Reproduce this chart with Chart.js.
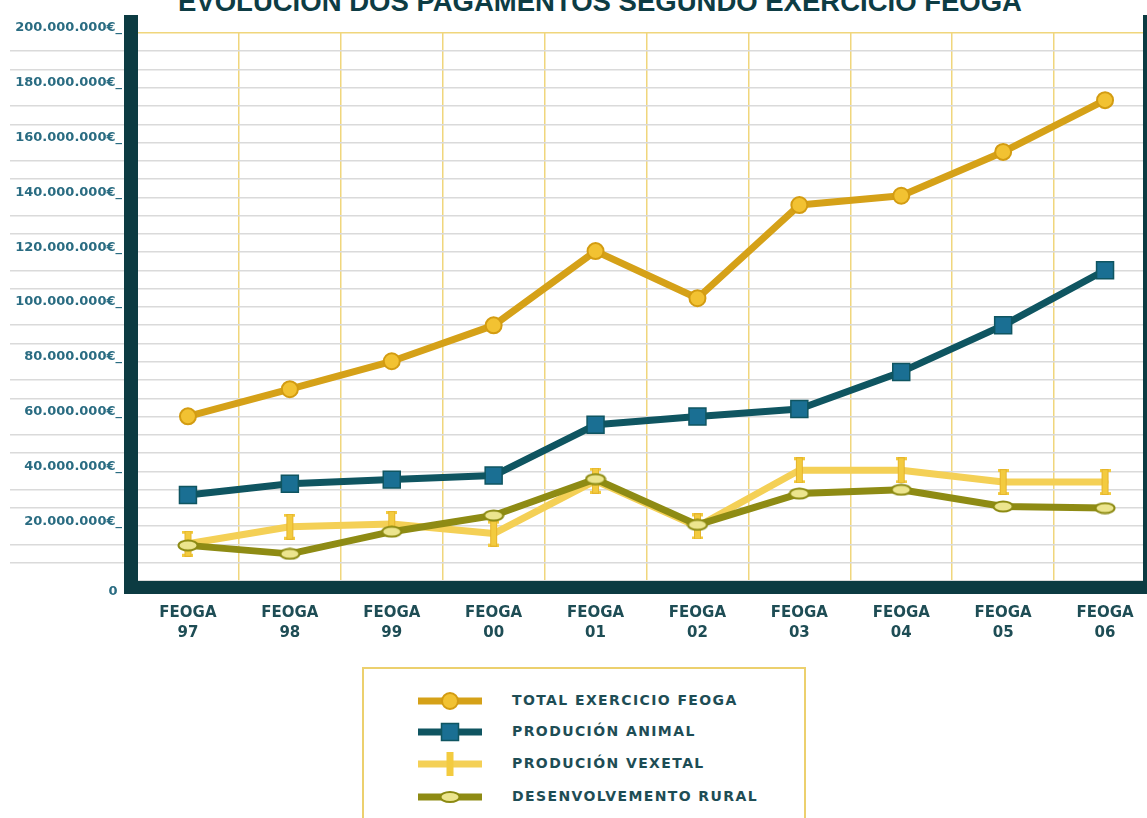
<!DOCTYPE html>
<html lang="gl">
<head>
<meta charset="utf-8">
<title>Evolución dos pagamentos segundo exercicio FEOGA</title>
<script src="https://cdn.jsdelivr.net/npm/chart.js@4.4.1/dist/chart.umd.min.js"></script>
<style>
  html, body { margin: 0; padding: 0; background: #fff; overflow: hidden; }
  #page { position: relative; width: 1147px; height: 818px; overflow: hidden; }
  #title {
    position: absolute; left: 0; top: -12px; width: 1200px;
    text-align: center; font: bold 27.5px/27px "Liberation Sans", Arial, sans-serif;
    color: #0d3c44; white-space: nowrap;
  }
  #my-chart { position: absolute; left: 0; top: 0; }
  #legend {
    position: absolute; left: 362px; top: 667px; width: 444px; height: 170px;
    box-sizing: border-box; border: 2px solid #ecd06e; background: #fff;
  }
  .item { position: absolute; left: 53px; height: 24px; display: flex; align-items: center; }
  .item svg { display: block; }
  .item span {
    position: absolute; left: 95px; top: 3px; white-space: nowrap;
    font: bold 14px "DejaVu Sans", sans-serif; letter-spacing: 1.4px; color: #1e4d55;
  }
</style>
</head>
<body>
<div id="page">
  <div id="title">EVOLUCIÓN DOS PAGAMENTOS SEGUNDO EXERCICIO FEOGA</div>
  <canvas id="my-chart" width="1171" height="641"></canvas>
  <div id="legend"></div>
</div>

<script>
'use strict';

// ***** DATA *****

let years = ['97', '98', '99', '00', '01', '02', '03', '04', '05', '06'];
let seriesNames = ['TOTAL EXERCICIO FEOGA', 'PRODUCIÓN ANIMAL', 'PRODUCIÓN VEXETAL', 'DESENVOLVEMENTO RURAL'];

let totalFeoga = [60100000, 70000000, 80200000, 93300000, 120400000, 103200000, 137200000, 140600000, 156600000, 175500000];
let producionAnimal = [31400000, 35500000, 37000000, 38500000, 57000000, 60000000, 62800000, 76300000, 93300000, 113400000];
let producionVexetal = [13600000, 19800000, 20800000, 17300000, 36600000, 19900000, 40400000, 40400000, 36100000, 36100000];
let desenvolvementoRural = [13000000, 9900000, 18000000, 23900000, 37200000, 20500000, 31900000, 33300000, 27200000, 26600000];

let yMax = 200000000;
let yStep = 20000000 / 3;

// ***** COLOURS *****

let darkTeal = '#0c3b42';
let labelTeal = '#1e4d55';

// ***** HELPER FUNCTIONS *****

function formatEuro(value){
  return String(Math.round(value)).replace(/\B(?=(\d{3})+(?!\d))/g, '.');
}

// little canvases used as point styles
function makeBar(){
  let c = document.createElement('canvas');
  c.width = 11; c.height = 26;
  let g = c.getContext('2d');
  g.fillStyle = '#f3cb3f';
  g.fillRect(2, 0, 7, 26);
  g.fillRect(0, 0, 11, 3);
  g.fillRect(0, 23, 11, 3);
  g.strokeStyle = '#e6b52c';
  g.lineWidth = 1;
  g.strokeRect(2.5, 0.5, 6, 25);
  return c;
}

function makeEllipse(){
  let c = document.createElement('canvas');
  c.width = 22; c.height = 13;
  let g = c.getContext('2d');
  g.beginPath();
  g.ellipse(11, 6.5, 9.5, 5, 0, 0, Math.PI * 2);
  g.fillStyle = '#ece58e';
  g.fill();
  g.lineWidth = 2;
  g.strokeStyle = '#8c8a12';
  g.stroke();
  return c;
}

// ***** FRAME PLUGIN (thick dark axis bars) *****

let framePlugin = {
  id: 'frame',
  beforeDatasetsDraw(chart){
    let a = chart.chartArea;
    let c = chart.ctx;
    c.save();
    c.fillStyle = darkTeal;
    c.fillRect(a.left - 13, a.top - 18, 14, a.bottom - a.top + 31);
    c.fillRect(a.left - 13, a.bottom, a.right - a.left + 13, 13);
    c.fillRect(a.right - 13, a.top - 18, 30, a.bottom - a.top + 31);
    c.restore();
  }
};

// ***** CHART *****

let ctx = document.getElementById('my-chart').getContext('2d');

let myChartObj = {
  type: 'line',
  data: {
    labels: years.map(y => ['FEOGA', y]),
    datasets: [{
      label: seriesNames[0],
      data: totalFeoga,
      borderColor: '#d5a118',
      borderWidth: 7,
      pointStyle: 'circle',
      pointRadius: 8,
      pointBackgroundColor: '#f2c232',
      pointBorderColor: '#d39c12',
      pointBorderWidth: 2,
      order: 1
    },
    {
      label: seriesNames[1],
      data: producionAnimal,
      borderColor: '#0f5561',
      borderWidth: 7,
      pointStyle: 'rect',
      pointRadius: 12,
      pointBackgroundColor: '#1a6f93',
      pointBorderColor: '#0f5561',
      pointBorderWidth: 1.5,
      order: 2
    },
    {
      label: seriesNames[2],
      data: producionVexetal,
      borderColor: '#f4d056',
      borderWidth: 7,
      pointStyle: makeBar(),
      order: 4
    },
    {
      label: seriesNames[3],
      data: desenvolvementoRural,
      borderColor: '#8e8b14',
      borderWidth: 7,
      pointStyle: makeEllipse(),
      order: 3
    }]
  },
  options: {
    responsive: false,
    animation: false,
    layout: { padding: { top: 33, right: 3, left: 0, bottom: 0 } },
    elements: {
      line: { tension: 0, borderJoinStyle: 'round', borderCapStyle: 'round', fill: false },
      point: { hoverRadius: 8 }
    },
    plugins: {
      legend: { display: false },
      tooltip: { enabled: false }
    },
    scales: {
      x: {
        offset: true,
        border: { display: false },
        grid: {
          offset: true,
          color: '#f0d67c',
          lineWidth: 1.5,
          drawTicks: false
        },
        ticks: {
          color: labelTeal,
          padding: 22,
          autoSkip: false,
          maxRotation: 0,
          font: { family: 'DejaVu Sans', weight: 'bold', size: 15, lineHeight: 1.35 }
        },
        afterFit: function(scale){ scale.height = 60; }
      },
      y: {
        min: 0,
        max: yMax,
        border: { display: false },
        grid: {
          color: function(c){ return (c.tick && c.tick.value >= yMax - 1) ? '#f0d67c' : '#dadada'; },
          lineWidth: 1.6,
          tickLength: 127,
          tickColor: function(c){ return c.index % 3 === 0 ? 'rgba(0,0,0,0)' : '#dadada'; }
        },
        ticks: {
          stepSize: yStep,
          autoSkip: false,
          padding: -112,
          labelOffset: -5,
          color: '#2a6c82',
          font: { family: 'DejaVu Sans', weight: 'bold', size: 13 },
          callback: function(value, index){
            if(index === 0){ return ['', '', '0 ']; }
            if(index % 3 !== 0){ return ''; }
            return formatEuro(value) + '€_';
          }
        },
        afterFit: function(scale){ scale.width = 137; }
      }
    }
  },
  plugins: [framePlugin]
};

new Chart(ctx, myChartObj);

// ***** HTML LEGEND *****

let legendSymbols = [
  '<line x1="1" y1="12" x2="65" y2="12" stroke="#d5a118" stroke-width="7"/><circle cx="33" cy="12" r="8" fill="#f2c232" stroke="#d39c12" stroke-width="2"/>',
  '<line x1="1" y1="12" x2="65" y2="12" stroke="#0f5561" stroke-width="7"/><rect x="24.5" y="3.5" width="17" height="17" fill="#1a6f93" stroke="#0f5561" stroke-width="1.5"/>',
  '<line x1="1" y1="12" x2="65" y2="12" stroke="#f4d056" stroke-width="7"/><rect x="29.5" y="0" width="7" height="24" fill="#f3cb3f"/>',
  '<line x1="1" y1="12" x2="65" y2="12" stroke="#8e8b14" stroke-width="7"/><ellipse cx="33" cy="12" rx="9.5" ry="5" fill="#ece58e" stroke="#8c8a12" stroke-width="2"/>'
];
let legendRows = [20, 51, 83, 116];

let legendBox = document.getElementById('legend');
for(let i = 0; i < seriesNames.length; i++){
  let row = document.createElement('div');
  row.className = 'item';
  row.style.top = legendRows[i] + 'px';
  row.innerHTML = '<svg width="66" height="24" viewBox="0 0 66 24">' + legendSymbols[i] + '</svg><span>' + seriesNames[i] + '</span>';
  legendBox.appendChild(row);
}
</script>
</body>
</html>
